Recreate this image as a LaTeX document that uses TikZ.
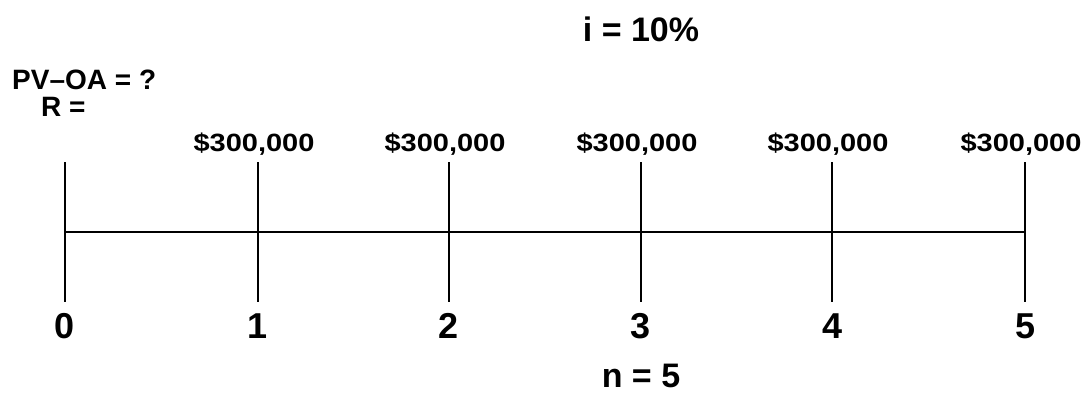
\documentclass[tikz,border=0pt]{standalone}
\usepackage{fontspec}
\setmainfont{Liberation Sans}
\begin{document}
\begin{tikzpicture}[x=1pt,y=-1pt,
  axisline/.style={line width=2pt, line cap=butt},
  lbl/.style={inner sep=0pt, anchor=base},
  amt/.style={lbl, font=\bfseries\fontsize{25}{28}\selectfont},
  period/.style={lbl, font=\bfseries\fontsize{36}{40}\selectfont},
  big/.style={lbl, font=\bfseries\fontsize{34}{38}\selectfont},
  side/.style={inner sep=0pt, anchor=base west, font=\bfseries\fontsize{28}{32}\selectfont}]
\useasboundingbox (0,0) rectangle (1084,394);
\fill[white] (0,0) rectangle (1084,394);

\node[big] (rate) at (641,41) {i = 10\%};
\node[side] (pv) at (12,89) {PV–OA = ?};
\node[side] (r) at (41,116) {R =};

\coordinate (h0) at (65,232);
\coordinate (h5) at (1025,232);
\draw[axisline] (h0) -- (h5);

\foreach \i/\x in {0/65,1/258,2/449,3/641,4/832,5/1025}{
  \coordinate (top\i) at (\x,162);
  \coordinate (bot\i) at (\x,302);
  \draw[axisline] (top\i) -- (bot\i);
  \node[period] (p\i) at (\x,338) {\i};
}
\foreach \i/\x in {1/254,2/445,3/637,4/828,5/1021}{
  \node[amt] (a\i) at (\x,151) {\scalebox{1.16}[1]{\$300,000}};
}
\node[big] (n) at (641,387) {n = 5};
\end{tikzpicture}
\end{document}
